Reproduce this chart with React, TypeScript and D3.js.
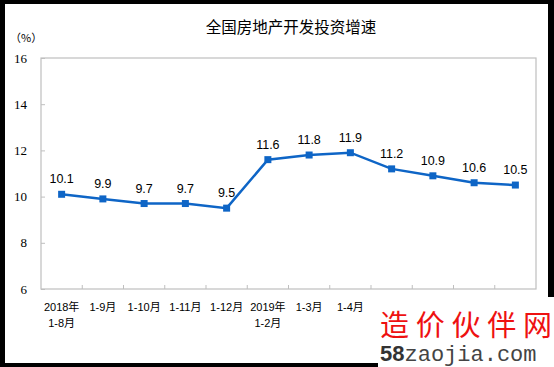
import { useEffect, useRef } from "react";
import * as d3 from "d3";

const categories = [
  "2018年\n1-8月", "1-9月", "1-10月", "1-11月", "1-12月", "2019年\n1-2月",
  "1-3月", "1-4月", "1-5月", "1-6月", "1-7月", "1-8月",
];
const values = [10.1, 9.9, 9.7, 9.7, 9.5, 11.6, 11.8, 11.9, 11.2, 10.9, 10.6, 10.5];
const yTicks = [6, 8, 10, 12, 14, 16];

const App = () => {
  const ref = useRef<SVGSVGElement>(null);

  useEffect(() => {
    const svg = d3.select(ref.current);
    svg.selectAll("*").remove();

    const W = 554, H = 367;
    const margin = { top: 58, right: 18, bottom: 78, left: 41 };

    // outer black frame
    svg.append("rect").attr("width", W).attr("height", H).attr("fill", "#000");
    svg.append("rect").attr("x", 5).attr("y", 4).attr("width", 543).attr("height", 359).attr("fill", "#fff");

    const x = d3.scaleBand().domain(categories).range([margin.left, W - margin.right]);
    const y = d3.scaleLinear().domain([6, 16]).range([H - margin.bottom, margin.top]);

    // plot frame
    svg.append("rect")
      .attr("x", margin.left).attr("y", margin.top)
      .attr("width", W - margin.left - margin.right)
      .attr("height", H - margin.top - margin.bottom)
      .attr("fill", "none").attr("stroke", "#bfbfbf").attr("stroke-width", 1.2);

    // y axis
    const yAxis = svg.append("g")
      .attr("transform", `translate(${margin.left},0)`)
      .attr("font-family", "'Liberation Serif', serif")
      .call(d3.axisLeft(y).tickValues(yTicks).tickSize(-4).tickPadding(14));
    yAxis.select(".domain").remove();
    yAxis.selectAll("line").attr("stroke", "#bfbfbf");
    yAxis.attr("font-family", "'Liberation Serif', serif");
    yAxis.selectAll("text")
      .attr("font-family", "'Liberation Serif', serif")
      .attr("font-size", 13).attr("fill", "#000");

    // x axis ticks (between categories)
    const bounds = categories.slice(1).map(c => x(c)!);
    svg.append("g").selectAll("line").data(bounds).join("line")
      .attr("x1", d => d).attr("x2", d => d)
      .attr("y1", H - margin.bottom).attr("y2", H - margin.bottom - 4)
      .attr("stroke", "#bfbfbf");

    // x labels
    svg.append("g").selectAll("text").data(categories).join("text")
      .attr("text-anchor", "middle")
      .attr("font-family", "'Liberation Sans', 'Noto Sans CJK SC', sans-serif")
      .attr("font-size", 11).attr("fill", "#000")
      .attr("transform", d => `translate(${x(d)! + x.bandwidth() / 2},${H - margin.bottom + 22})`)
      .each(function (d) {
        d.split("\n").forEach((line, i) => {
          d3.select(this).append("tspan").attr("x", 0).attr("dy", i === 0 ? 0 : 16).text(line);
        });
      });

    const cx = (i: number) => x(categories[i])! + x.bandwidth() / 2;

    // line
    const line = d3.line<number>().x((_, i) => cx(i)).y(d => y(d));
    svg.append("path").datum(values)
      .attr("fill", "none").attr("stroke", "#0e65c6").attr("stroke-width", 2.5)
      .attr("d", line);

    // markers
    svg.append("g").selectAll("rect").data(values).join("rect")
      .attr("x", (_, i) => cx(i) - 3.5).attr("y", d => y(d) - 3.5)
      .attr("width", 7).attr("height", 7).attr("fill", "#0e65c6");

    // data labels
    svg.append("g").selectAll("text").data(values).join("text")
      .attr("x", (_, i) => cx(i)).attr("y", d => y(d) - 11)
      .attr("text-anchor", "middle")
      .attr("font-family", "'Liberation Sans', sans-serif")
      .attr("font-size", 12.5).attr("fill", "#000")
      .text(d => d.toFixed(1));

    // title and unit
    svg.append("text")
      .attr("x", 291).attr("y", 33).attr("text-anchor", "middle")
      .attr("font-family", "'Noto Sans CJK SC', sans-serif")
      .attr("font-size", 15.5).attr("fill", "#000")
      .text("全国房地产开发投资增速");
    svg.append("text")
      .attr("x", 10).attr("y", 42)
      .attr("font-family", "'Noto Sans CJK SC', serif")
      .attr("font-size", 11).attr("fill", "#000")
      .text("（%）");

    // watermark
    const wm = svg.append("g");
    wm.append("rect").attr("x", 378).attr("y", 297).attr("width", 176).attr("height", 70).attr("fill", "#fff");
    wm.append("text")
      .attr("x", 380).attr("y", 336)
      .attr("font-family", "'Noto Sans CJK SC', sans-serif")
      .attr("font-size", 29).attr("fill", "#ee1111")
      .attr("textLength", 172)
      .text("造价伙伴网");
    const t = wm.append("text")
      .attr("x", 380).attr("y", 361)
      .attr("font-size", 22);
    t.append("tspan")
      .attr("font-family", "'Liberation Sans', sans-serif")
      .attr("font-weight", "bold").attr("fill", "#333")
      .text("58");
    t.append("tspan")
      .attr("font-family", "'Liberation Mono', monospace")
      .attr("fill", "#444")
      .text("zaojia.com");
  }, []);

  return (
    <svg
      ref={ref}
      width={554}
      height={367}
      style={{ position: "absolute", left: 0, top: 0 }}
    />
  );
};

export default App;
